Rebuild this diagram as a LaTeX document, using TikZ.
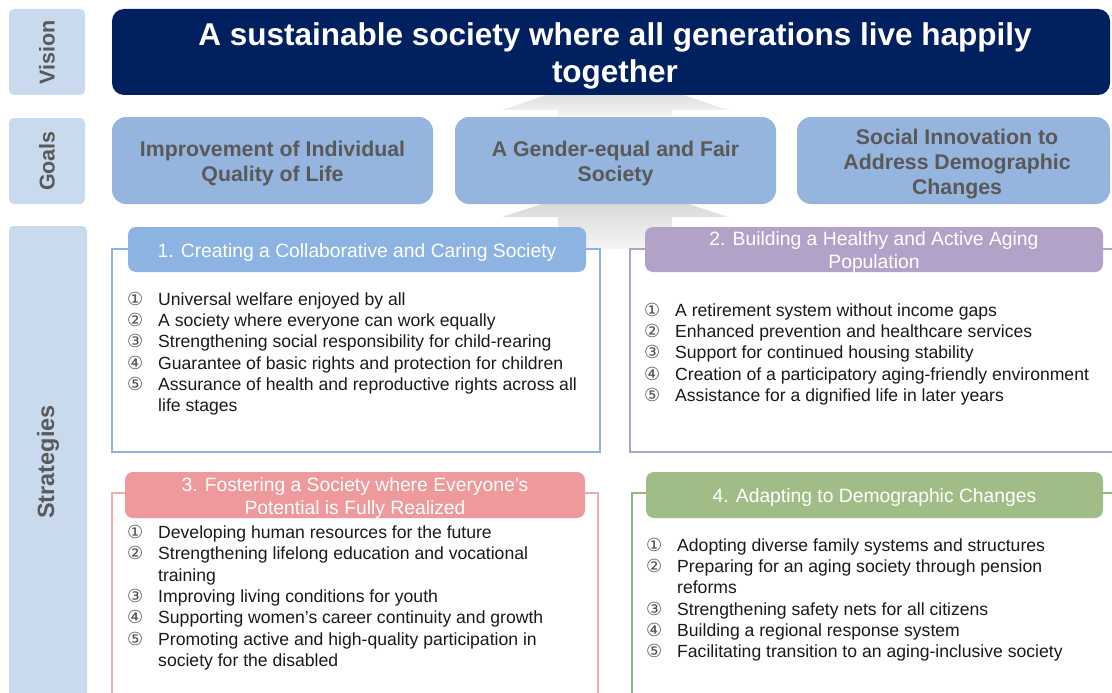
\documentclass[tikz,border=0pt]{standalone}
\usepackage{fontspec}
\setmainfont{Liberation Sans}
\newfontfamily\symfont{DejaVu Sans}
\definecolor{navy}{HTML}{002060}
\definecolor{sidefill}{HTML}{C9D9EE}
\definecolor{goalfill}{HTML}{95B4DE}
\definecolor{txtgray}{HTML}{595959}
\definecolor{numgray}{HTML}{505050}
\definecolor{itemtxt}{HTML}{1A1A1A}
\definecolor{hdA}{HTML}{8DB3E2}
\definecolor{frA}{HTML}{8DB3E2}
\definecolor{hdB}{HTML}{B3A2C7}
\definecolor{frB}{HTML}{B3A2C7}
\definecolor{hdC}{HTML}{EE9A9C}
\definecolor{frC}{HTML}{F4A8A8}
\definecolor{hdD}{HTML}{A0BD88}
\definecolor{frD}{HTML}{93B77D}
\newcommand\ci[1]{\makebox[31pt][l]{\symfont\fontsize{18}{21.3}\selectfont\color{numgray}#1}}
\tikzset{
  sidelabel/.style={fill=sidefill, rounded corners=5pt, draw=none},
  sidetext/.style={rotate=90, text=txtgray, font=\bfseries\fontsize{21.5}{24}\selectfont},
  goalbox/.style={fill=goalfill, rounded corners=14pt, draw=none},
  goaltext/.style={text=txtgray, align=center, font=\bfseries\fontsize{21.3}{25}\selectfont},
  header/.style={rounded corners=8pt, draw=none},
  headtext/.style={text=white, align=center, font=\fontsize{19.3}{23}\selectfont},
  frame/.style={line width=2pt},
  itemlist/.style={anchor=north west, inner sep=0pt, text=itemtxt, font=\fontsize{17.6}{21.3}\selectfont},
  uparrow/.style={draw=none, top color=gray!40, bottom color=gray!8}
}
\begin{document}
\begin{tikzpicture}[x=1pt,y=-1pt]
\useasboundingbox (0,0) rectangle (1112,693);
\fill[white] (0,0) rectangle (1112,693);

% gray block arrows
\path[uparrow] (558,117) -- (558,110) -- (502,110) -- (615,72) -- (728,110) -- (672,110) -- (672,117) -- cycle;
\path[uparrow] (558,249) -- (558,217) -- (502,217) -- (615,180) -- (728,217) -- (672,217) -- (672,249) -- cycle;

% side labels
\path[sidelabel] (9,9) rectangle (85,95);
\node[sidetext] (lv) at (47,52) {Vision};
\path[sidelabel] (9,118) rectangle (85,204);
\node[sidetext] (lg) at (47,161) {Goals};
\path[sidelabel] (9,226) rectangle (87,700);
\node[sidetext, font=\bfseries\fontsize{23.5}{26}\selectfont] (ls) at (48,462) {Strategies};

% vision
\path[fill=navy, rounded corners=12pt] (112,9) rectangle (1110,95);
\node[text=white, align=center, font=\bfseries\fontsize{31.5}{37}\selectfont] (vision) at (615,55.5)
  {A sustainable society where all generations live happily\\together};

% goals
\path[goalbox] (112,117) rectangle (433,204);
\node[goaltext] (g1) at (272.5,163) {Improvement of Individual\\Quality of Life};
\path[goalbox] (455,117) rectangle (776,204);
\node[goaltext] (g2) at (615.5,163) {A Gender-equal and Fair\\Society};
\path[goalbox] (797,117) rectangle (1110,204);
\node[goaltext] (g3) at (957,164) {Social Innovation to\\Address Demographic\\Changes};

% panel 1
\draw[frame, draw=frA] (112,249) rectangle (600,452);
\path[header, fill=hdA] (128,227) rectangle (586,272);
\node[headtext] (h1) at (357,252.5) {1. Creating a Collaborative and Caring Society};
\node[itemlist] (l1) at (127,290) {\begin{tabular}{@{}l@{}l@{}}
\ci{①} & Universal welfare enjoyed by all\\
\ci{②} & A society where everyone can work equally\\
\ci{③} & Strengthening social responsibility for child-rearing\\
\ci{④} & Guarantee of basic rights and protection for children\\
\ci{⑤} & Assurance of health and reproductive rights across all\\
 & life stages
\end{tabular}};

% panel 2
\draw[frame, draw=frB] (630,249) rectangle (1116,452);
\path[header, fill=hdB] (645,227) rectangle (1103,272);
\node[headtext] (h2) at (874,252.5) {2. Building a Healthy and Active Aging\\Population};
\node[itemlist] (l2) at (644,301) {\begin{tabular}{@{}l@{}l@{}}
\ci{①} & A retirement system without income gaps\\
\ci{②} & Enhanced prevention and healthcare services\\
\ci{③} & Support for continued housing stability\\
\ci{④} & Creation of a participatory aging-friendly environment\\
\ci{⑤} & Assistance for a dignified life in later years
\end{tabular}};

% panel 3
\draw[frame, draw=frC] (112,493) rectangle (598,710);
\path[header, fill=hdC] (125,472) rectangle (585,518);
\node[headtext] (h3) at (355,498) {3. Fostering a Society where Everyone's\\Potential is Fully Realized};
\node[itemlist] (l3) at (127,523.5) {\begin{tabular}{@{}l@{}l@{}}
\ci{①} & Developing human resources for the future\\
\ci{②} & Strengthening lifelong education and vocational\\
 & training\\
\ci{③} & Improving living conditions for youth\\
\ci{④} & Supporting women's career continuity and growth\\
\ci{⑤} & Promoting active and high-quality participation in\\
 & society for the disabled
\end{tabular}};

% panel 4
\draw[frame, draw=frD] (632,493) rectangle (1116,710);
\path[header, fill=hdD] (646,472) rectangle (1103,518);
\node[headtext] (h4) at (874.5,498) {4. Adapting to Demographic Changes};
\node[itemlist] (l4) at (646,536) {\begin{tabular}{@{}l@{}l@{}}
\ci{①} & Adopting diverse family systems and structures\\
\ci{②} & Preparing for an aging society through pension\\
 & reforms\\
\ci{③} & Strengthening safety nets for all citizens\\
\ci{④} & Building a regional response system\\
\ci{⑤} & Facilitating transition to an aging-inclusive society
\end{tabular}};
\end{tikzpicture}
\end{document}
